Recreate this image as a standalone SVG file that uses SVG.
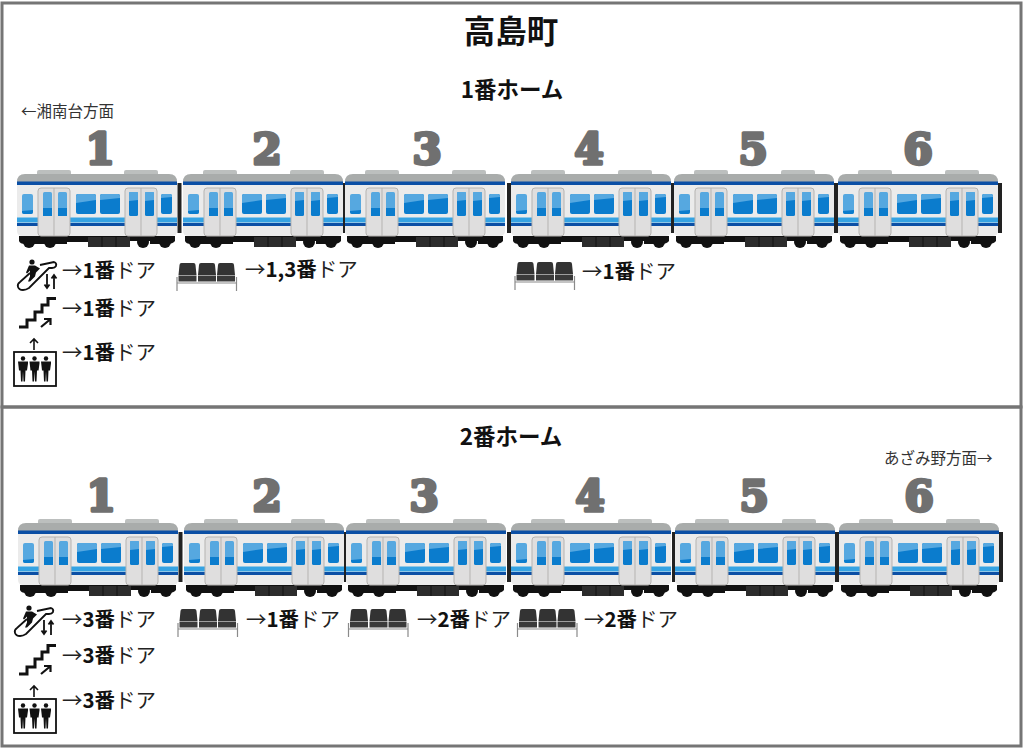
<svg xmlns="http://www.w3.org/2000/svg" width="1024" height="749" viewBox="0 0 1024 749">
<style>
text{font-family:"Noto Sans CJK JP","Noto Sans",sans-serif;fill:#111}
.title{font-size:31.500px;font-weight:700;text-anchor:middle}
.home{font-size:22.500px;font-weight:700;text-anchor:middle}
.dir{font-size:15.500px;fill:#333}
.lab{font-size:20.500px;fill:#222}
.lab tspan{font-weight:700;fill:#111}
.num{font-family:"DejaVu Serif",serif;font-size:42px;font-weight:900;fill:#707070;stroke:#707070;stroke-width:3.400;stroke-linejoin:round;text-anchor:middle}
.win{fill:#0b7ccd}
.win2{fill:#56a8e0}
.door{fill:#dfdede;stroke:#b5b3b1;stroke-width:1}
.ic{fill:#111}
.icl{fill:none;stroke:#111}
</style>
<defs>
<g id="car">
<rect x="20" y="0" width="34" height="8" rx="2" fill="#bcbfbe"/>
<rect x="107" y="0" width="34" height="8" rx="2" fill="#bcbfbe"/>
<path d="M2 66H158V71Q156 74 150 74H133V71H112V77H71V72H50V74H8Q3 74 2 71z" fill="#111"/>
<rect x="71" y="67" width="42" height="10" fill="#2c2c2c"/>
<path d="M85 67v10M99 67v10" stroke="#111"/>
<g fill="#111"><circle cx="12" cy="72" r="6"/><circle cx="33" cy="72" r="6"/><circle cx="126" cy="72" r="6"/><circle cx="148" cy="72" r="6"/></g>
<path d="M0 11V61Q0 66 6 66H154Q160 66 160 61V11z" fill="#ebebeb"/>
<path d="M0 12q0-8 8-8H152q8 0 8 8v1H0z" fill="#a9acab"/>
<rect x="0" y="11.500" width="160" height="3.500" fill="#0b4fa5"/>
<rect x="0" y="47.500" width="160" height="5" fill="#35a3e3"/>
<rect x="0" y="53" width="160" height="3" fill="#0b4fa5"/>
<rect x="21" y="18" width="32" height="48" rx="3" class="door"/><path d="M37 18v48" stroke="#b5b3b1"/>
<rect x="108" y="18" width="32" height="48" rx="3" class="door"/><path d="M124 18v48" stroke="#b5b3b1"/>
<rect x="5" y="24" width="11" height="20" rx="2" class="win2"/><path d="M5 41l11-1v2q0 2-2 2H7q-2 0-2-2z" class="win"/>
<rect x="26" y="22" width="9" height="24" rx="1.500" class="win2"/><rect x="26" y="38" width="9" height="8" class="win"/>
<rect x="41" y="22" width="9" height="24" rx="1.500" class="win2"/><rect x="41" y="38" width="9" height="8" class="win"/>
<rect x="59" y="24" width="20" height="20" rx="2" class="win"/><path d="M59 33l20-3v-4q0-2-2-2H61q-2 0-2 2z" class="win2"/>
<rect x="83" y="24" width="20" height="20" rx="2" class="win"/><path d="M83 30l20-2v-2q0-2-2-2H85q-2 0-2 2z" class="win2"/>
<rect x="112" y="22" width="9" height="24" rx="1.500" class="win"/><path d="M112 31l9-1v-7q0-1-1-1h-7q-1 0-1 1z" class="win2"/>
<rect x="128" y="22" width="9" height="24" rx="1.500" class="win"/><path d="M128 31l9-1v-7q0-1-1-1h-7q-1 0-1 1z" class="win2"/>
<rect x="144" y="24" width="11" height="20" rx="2" class="win"/><path d="M144 28l11-1v-1q0-2-2-2h-7q-2 0-2 2z" class="win2"/>
</g>
<g id="esc">
<path class="icl" stroke-width="1.800" d="M24 6L38 3Q41 4 40 7 39 9 36 9H33L13 29Q10 31 7 31Q3 31 2 28 1 25 4 23L14 14"/>
<circle class="ic" cx="16" cy="3" r="2.600"/><path class="ic" d="M13 6.500h6l5 3-4 4-1 4-5 5-2 0 2-5 0-6-3 3-1-1z"/>
<path class="icl" stroke-width="1.800" d="M31 15V29M28.500 25.500l2.500 3.500 2.500-3.500M38 30V16M35.500 19.500l2.500-3.500 2.500 3.500"/>
</g>
<g id="stair">
<path class="icl" stroke-width="3" d="M1 30H9V23H17V15H24V8H30V1.500H38"/>
<path class="icl" stroke-width="2.200" d="M23 30L32 22.500M26 22H32.500V28"/>
</g>
<g id="lift">
<path class="icl" stroke-width="1.600" d="M21 12V1M17 5l4-4 4 4"/>
<rect class="icl" stroke-width="1.800" x="1" y="14" width="42" height="34"/>
<g id="m" class="ic"><circle cx="10" cy="20.500" r="2.200"/><path d="M5 23.500h10v2l-1 7h-1.500l-.5 11h-1.500l-.5-10-.5 10H8l-.5-11H6z"/></g>
<use href="#m" x="11.500"/><use href="#m" x="23"/>
</g>
<g id="seats">
<path d="M0 20H60M.5 14V28M60 14V28" stroke="#8a8a8a" stroke-width="1.200" fill="none"/>
<g id="s"><path d="M3 2Q3 0 5 0H17Q19 0 19 2L20 12H2z" fill="#333"/><path d="M2 12.500H20L20 18.500H2z" fill="#3a3a3a"/></g>
<use href="#s" x="19.500"/><use href="#s" x="38.500"/>
</g>
</defs>
<rect id="bg" width="1024" height="749" fill="#fff"/>
<g id="frames" fill="none" stroke="#757575" stroke-width="3">
<rect x="2" y="3" width="1019" height="404"/>
<rect x="2" y="407" width="1019" height="339"/>
</g>
<g id="headings">
<text class="title" x="511" y="43">高島町</text>
<text class="home" x="512" y="98">1番ホーム</text>
<text class="home" x="511" y="445">2番ホーム</text>
<text class="dir" x="21" y="117">←湘南台方面</text>
<text class="dir" x="884" y="464">あざみ野方面→</text>
</g>
<g id="platform1">
<g id="p1-car1"><text class="num" x="100" y="164">1</text><use href="#car" x="17" y="170"/></g>
<g id="p1-car2"><text class="num" x="267" y="164">2</text><use href="#car" x="183" y="170"/></g>
<g id="p1-car3"><text class="num" x="427" y="164">3</text><use href="#car" x="345" y="170"/></g>
<g id="p1-car4"><text class="num" x="589" y="164">4</text><use href="#car" x="511" y="170"/></g>
<g id="p1-car5"><text class="num" x="753" y="164">5</text><use href="#car" x="674" y="170"/></g>
<g id="p1-car6"><text class="num" x="918" y="164">6</text><use href="#car" x="838" y="170"/></g>
<g fill="#222"><rect x="177.500" y="183" width="4" height="50"/><rect x="343" y="183" width="2" height="50"/><rect x="507" y="183" width="4" height="50"/><rect x="671" y="183" width="3" height="50"/><rect x="834" y="183" width="4" height="50"/><rect x="998" y="183" width="4" height="50"/></g>
<use href="#esc" x="16" y="259"/><use href="#stair" x="18" y="297"/><use href="#lift" x="13" y="338"/>
<use href="#seats" x="176.500" y="263"/><use href="#seats" x="514.500" y="262"/>
<text class="lab" x="62" y="278">→<tspan>1番</tspan>ドア</text>
<text class="lab" x="62" y="316">→<tspan>1番</tspan>ドア</text>
<text class="lab" x="62" y="360">→<tspan>1番</tspan>ドア</text>
<text class="lab" x="245" y="277">→<tspan>1,3番</tspan>ドア</text>
<text class="lab" x="582" y="279">→<tspan>1番</tspan>ドア</text>
</g>
<g id="platform2">
<g id="p2-car1"><text class="num" x="101" y="511">1</text><use href="#car" x="18" y="519"/></g>
<g id="p2-car2"><text class="num" x="267" y="511">2</text><use href="#car" x="184" y="519"/></g>
<g id="p2-car3"><text class="num" x="424" y="511">3</text><use href="#car" x="346" y="519"/></g>
<g id="p2-car4"><text class="num" x="590" y="511">4</text><use href="#car" x="511" y="519"/></g>
<g id="p2-car5"><text class="num" x="754" y="511">5</text><use href="#car" x="675" y="519"/></g>
<g id="p2-car6"><text class="num" x="919" y="511">6</text><use href="#car" x="839" y="519"/></g>
<g fill="#222"><rect x="178.500" y="532" width="4" height="50"/><rect x="344" y="532" width="2" height="50"/><rect x="507" y="532" width="4" height="50"/><rect x="672" y="532" width="3" height="50"/><rect x="835" y="532" width="4" height="50"/><rect x="999" y="532" width="4" height="50"/></g>
<use href="#esc" x="13" y="605"/><use href="#stair" x="18" y="644"/><use href="#lift" x="13" y="685"/>
<use href="#seats" x="177.500" y="609"/><use href="#seats" x="348" y="609"/><use href="#seats" x="517" y="609"/>
<text class="lab" x="62" y="627">→<tspan>3番</tspan>ドア</text>
<text class="lab" x="62" y="663">→<tspan>3番</tspan>ドア</text>
<text class="lab" x="62" y="708">→<tspan>3番</tspan>ドア</text>
<text class="lab" x="246" y="627">→<tspan>1番</tspan>ドア</text>
<text class="lab" x="417" y="627">→<tspan>2番</tspan>ドア</text>
<text class="lab" x="584" y="627">→<tspan>2番</tspan>ドア</text>
</g>
</svg>
